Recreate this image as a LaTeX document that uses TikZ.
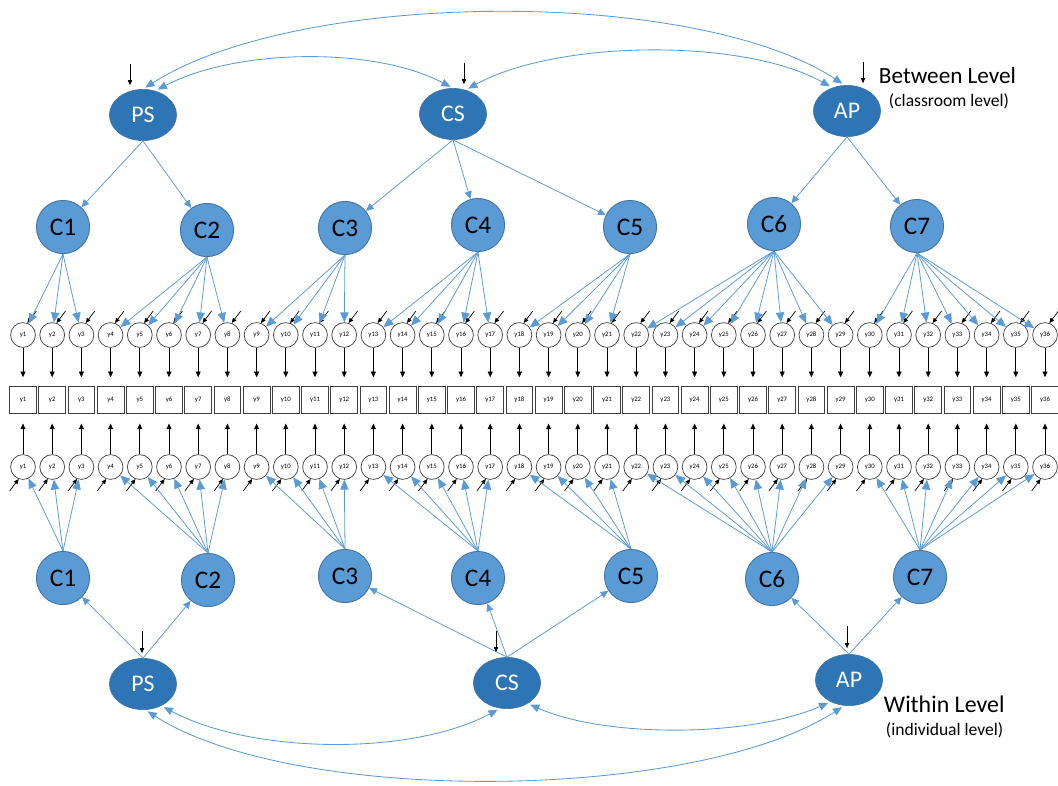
\documentclass[tikz,border=0pt]{standalone}
\usepackage{fontspec}
\setmainfont{Carlito}
\definecolor{latentblue}{RGB}{46,117,182}
\definecolor{factorblue}{RGB}{91,155,213}
\definecolor{rimblue}{RGB}{65,113,156}
\definecolor{pathblue}{RGB}{91,155,213}
\usepackage{tikz}
\usetikzlibrary{shapes,arrows,arrows.meta,positioning,calc}

\begin{document}
\begin{tikzpicture}[x=0.025cm,y=-0.025cm,
    latent/.style={ellipse,fill=latentblue,draw=rimblue,line width=0.4pt,minimum width=1.68cm,minimum height=1.28cm,inner sep=0pt,text=white,font=\fontsize{17}{19}\selectfont},
    factor/.style={circle,fill=factorblue,draw=rimblue,line width=0.6pt,minimum size=1.33cm,inner sep=0pt,font=\fontsize{18}{20}\selectfont},
    item/.style={circle,draw=black!75,line width=0.5pt,minimum size=0.62cm,inner sep=0pt,font=\fontsize{4.8}{5}\selectfont},
    obs/.style={rectangle,draw=black!75,line width=0.5pt,minimum width=0.67cm,minimum height=0.66cm,inner sep=0pt,font=\fontsize{4.8}{5}\selectfont},
    load/.style={pathblue,line width=0.55pt,-{Triangle[length=7pt,width=6pt]}},
    struct/.style={pathblue,line width=0.55pt,-{Triangle[length=5.5pt,width=5pt]}},
    cov/.style={pathblue,line width=0.6pt,{Triangle[length=6.5pt,width=5.5pt]}-{Triangle[length=6.5pt,width=5.5pt]},shorten <=2pt,shorten >=2pt},
    resid/.style={black,line width=0.5pt,-{Triangle[length=3.5pt,width=3pt]}},
    meas/.style={black,line width=0.5pt,-{Triangle[length=4pt,width=3.5pt]}}]
\useasboundingbox (0,0) rectangle (1058,785);

% between level (classroom)
\node[latent] (psB) at (143,115) {PS};
\node[latent] (csB) at (453,114) {CS};
\node[latent] (apB) at (847,111) {AP};
\node[anchor=west,font=\fontsize{16.5}{18}\selectfont] (lvlB) at (874,76) {Between Level};
\node[anchor=west,font=\fontsize{12.5}{14}\selectfont] (subB) at (884,101) {(classroom level)};

\foreach \n/\x/\y in {1/63/227, 2/207/230, 3/345/228, 4/478/225, 5/630/227, 6/774/224, 7/917/226}
  \node[factor] (cB\n) at (\x,\y) {C\n};

% within level (individual)
\node[latent] (psW) at (143,684) {PS};
\node[latent] (csW) at (507,683) {CS};
\node[latent] (apW) at (849,680) {AP};
\node[anchor=west,font=\fontsize{17}{19}\selectfont] (lvlW) at (879,704) {Within Level};
\node[anchor=west,font=\fontsize{12.5}{14}\selectfont] (subW) at (881,730) {(individual level)};

\foreach \n/\x/\y in {1/63/578, 2/208/580, 3/345/576, 4/478/578, 5/631/576, 6/772/579, 7/920/577}
  \node[factor] (cW\n) at (\x,\y) {C\n};

% items, observed scores and residuals
\foreach \i in {1,...,36}{
  \pgfmathsetmacro\xpos{23+(\i-1)*29.2}
  \node[item] (tB\i) at (\xpos,335) {y\i};
  \node[obs] (ob\i) at (\xpos,400) {y\i};
  \node[item] (tW\i) at (\xpos,467) {y\i};
  \draw[meas,shorten >=2.3mm] (tB\i) -- (ob\i);
  \draw[meas,shorten >=2.5mm] (tW\i) -- (ob\i);
  \draw[resid] ($(tB\i.70)+(9,-12)$) -- (tB\i.70);
  \draw[resid] ($(tW\i.250)+(-9,12)$) -- (tW\i.250);
}

% factor loadings
\foreach \c/\a/\b in {1/1/3, 2/4/8, 3/9/12, 4/13/17, 5/18/21, 6/22/29, 7/30/36}
  \foreach \i in {\a,...,\b}{
    \draw[load] (cB\c.south) -- (tB\i);
    \draw[load] (cW\c.north) -- (tW\i);
  }

% second order paths
\draw[struct] (psB.south) -- (cB1);  \draw[struct] (psB.south) -- (cB2);
\draw[struct] (csB.south) -- (cB3);  \draw[struct] (csB.south) -- (cB4);  \draw[struct] (csB.south) -- (cB5);
\draw[struct] (apB.south) -- (cB6);  \draw[struct] (apB.south) -- (cB7);
\draw[struct] (psW.north) -- (cW1);  \draw[struct] (psW.north) -- (cW2);
\draw[struct] (csW.north) -- (cW3);  \draw[struct] (csW.north) -- (cW4);  \draw[struct] (csW.north) -- (cW5);
\draw[struct] (apW.north) -- (cW6);  \draw[struct] (apW.north) -- (cW7);

% disturbances
\draw[resid] ($(psB.north)+(-13,-25)$) -- ($(psB.north)+(-13,-4)$);
\draw[resid] ($(csB.north)+(11,-25)$) -- ($(csB.north)+(11,-4)$);
\draw[resid] ($(apB.north)+(16,-23)$) -- ($(apB.north)+(16,-2)$);
\draw[resid] ($(psW.north)+(-1,-27)$) -- ($(psW.north)+(-1,-5)$);
\draw[resid] ($(csW.north)+(-11,-26)$) -- ($(csW.north)+(-11,-5)$);
\draw[resid] ($(apW.north)+(-2,-28)$) -- ($(apW.north)+(-2,-6)$);

% covariances
\draw[cov] (psB.63) .. controls +(80,-42) and +(-80,-42) .. (csB.90);
\draw[cov] (psB.90) .. controls +(157,-100) and +(-150,-98) .. (apB.95);
\draw[cov] (csB.62) .. controls +(90,-50) and +(-90,-50) .. (apB.122);
\draw[cov] (psW.-50) .. controls +(90,48) and +(-90,48) .. (csW.-105);
\draw[cov] (csW.-45) .. controls +(80,35) and +(-80,35) .. (apW.-130);
\draw[cov] (psW.-85) .. controls +(150,96) and +(-150,96) .. (apW.-100);
\end{tikzpicture}
\end{document}
